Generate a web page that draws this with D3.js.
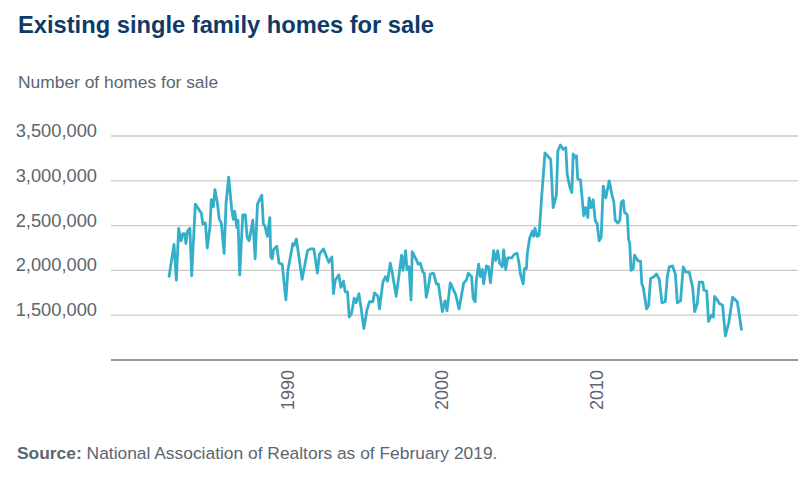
<!DOCTYPE html>
<html>
<head>
<meta charset="utf-8">
<script src="https://cdn.jsdelivr.net/npm/d3@7"></script>
<style>
  body { margin: 0; background: #fff; }
  text { font-family: "Liberation Sans", Arial, sans-serif; }
</style>
</head>
<body>
<div id="chart"></div>
<script>
// fractional year and homes for sale
const years = [
  1982.35, 1982.68, 1982.83, 1982.98, 1983.13, 1983.26, 1983.37, 1983.45, 1983.56, 1983.71,
  1983.82, 1984.06, 1984.32, 1984.45, 1984.54, 1984.71, 1984.83, 1985.01, 1985.09, 1985.22,
  1985.33, 1985.48, 1985.61, 1985.74, 1985.92, 1986.05, 1986.22, 1986.42, 1986.52, 1986.61,
  1986.74, 1986.82, 1986.93, 1987.13, 1987.30, 1987.41, 1987.54, 1987.78, 1987.93, 1988.08,
  1988.36, 1988.46, 1988.57, 1988.72, 1988.88, 1988.94, 1989.04, 1989.12, 1989.33, 1989.48,
  1989.68, 1989.92, 1990.05, 1990.37, 1990.47, 1990.60, 1990.97, 1991.32, 1991.49, 1991.73,
  1991.96, 1992.09, 1992.35, 1992.70, 1992.90, 1993.00, 1993.11, 1993.35, 1993.48, 1993.65,
  1993.76, 1993.91, 1994.02, 1994.17, 1994.34, 1994.47, 1994.65, 1994.78, 1994.97, 1995.17,
  1995.33, 1995.55, 1995.66, 1995.88, 1995.98, 1996.20, 1996.37, 1996.50, 1996.68, 1996.82,
  1997.06, 1997.41, 1997.50, 1997.67, 1997.76, 1997.89, 1998.02, 1998.10, 1998.36, 1998.49,
  1998.62, 1998.79, 1998.88, 1999.01, 1999.14, 1999.27, 1999.48, 1999.66, 1999.79, 2000.05,
  2000.22, 2000.35, 2000.56, 2000.91, 2001.13, 2001.43, 2001.60, 2001.73, 2001.94, 2002.04,
  2002.17, 2002.25, 2002.40, 2002.51, 2002.64, 2002.72, 2002.90, 2003.03, 2003.16, 2003.37,
  2003.50, 2003.63, 2003.76, 2003.93, 2004.02, 2004.15, 2004.28, 2004.54, 2004.71, 2004.89,
  2005.02, 2005.10, 2005.28, 2005.36, 2005.49, 2005.55, 2005.70, 2005.88, 2005.96, 2006.05,
  2006.18, 2006.31, 2006.46, 2006.69, 2007.06, 2007.22, 2007.43, 2007.52, 2007.69, 2007.87,
  2008.04, 2008.13, 2008.30, 2008.43, 2008.52, 2008.65, 2008.73, 2008.81, 2008.99, 2009.20,
  2009.33, 2009.46, 2009.55, 2009.68, 2009.81, 2009.94, 2010.07, 2010.20, 2010.33, 2010.46,
  2010.63, 2010.85, 2011.02, 2011.15, 2011.24, 2011.41, 2011.54, 2011.63, 2011.76, 2011.84,
  2012.02, 2012.10, 2012.18, 2012.26, 2012.40, 2012.49, 2012.70, 2012.88, 2012.96, 2013.05,
  2013.27, 2013.40, 2013.53, 2013.74, 2013.91, 2014.09, 2014.26, 2014.48, 2014.61, 2014.74,
  2014.95, 2015.13, 2015.26, 2015.47, 2015.64, 2015.81, 2016.03, 2016.25, 2016.38, 2016.55,
  2016.68, 2016.90, 2016.98, 2017.16, 2017.28, 2017.46, 2017.59, 2017.67, 2017.85, 2017.98,
  2018.19, 2018.37, 2018.58, 2018.84, 2019.14, 2019.42
];
const homes = [
  1920000, 2290000, 1890000, 2470000, 2330000, 2410000, 2410000, 2300000, 2440000, 2470000,
  1940000, 2740000, 2670000, 2640000, 2520000, 2530000, 2250000, 2490000, 2790000, 2710000,
  2900000, 2760000, 2570000, 2530000, 2190000, 2760000, 3040000, 2670000, 2570000, 2660000,
  2480000, 2560000, 1950000, 2620000, 2620000, 2370000, 2330000, 2560000, 2130000, 2740000,
  2840000, 2520000, 2490000, 2380000, 2590000, 2150000, 2130000, 2230000, 2270000, 2080000,
  2070000, 1670000, 2000000, 2300000, 2280000, 2350000, 1900000, 2220000, 2240000, 2240000,
  1970000, 2180000, 2240000, 2090000, 2150000, 1740000, 1890000, 1950000, 1810000, 1880000,
  1760000, 1760000, 1480000, 1520000, 1690000, 1640000, 1740000, 1590000, 1350000, 1560000,
  1650000, 1650000, 1750000, 1710000, 1570000, 1870000, 1930000, 1880000, 2080000, 1960000,
  1710000, 2170000, 2000000, 2220000, 2010000, 2040000, 1670000, 2210000, 2120000, 2070000,
  2080000, 1980000, 1970000, 1700000, 1810000, 1960000, 1970000, 1850000, 1850000, 1540000,
  1660000, 1550000, 1860000, 1730000, 1570000, 1860000, 1890000, 1970000, 1930000, 1690000,
  1650000, 1890000, 2070000, 1930000, 2010000, 1850000, 2050000, 2040000, 1860000, 2220000,
  2110000, 2220000, 2080000, 2040000, 2230000, 2010000, 2140000, 2140000, 2180000, 2190000,
  2070000, 1960000, 1850000, 2020000, 2020000, 2190000, 2360000, 2440000, 2380000, 2470000,
  2380000, 2390000, 2780000, 3310000, 3240000, 2700000, 2840000, 3330000, 3400000, 3350000,
  3370000, 3070000, 2930000, 2870000, 3300000, 3260000, 3280000, 3020000, 3010000, 2610000,
  2700000, 2590000, 2810000, 2700000, 2790000, 2560000, 2520000, 2330000, 2370000, 2940000,
  2810000, 3000000, 2850000, 2760000, 2560000, 2530000, 2560000, 2760000, 2780000, 2650000,
  2620000, 2350000, 2300000, 2000000, 2020000, 2170000, 2110000, 2100000, 1850000, 1810000,
  1570000, 1610000, 1910000, 1930000, 1960000, 1900000, 1640000, 1650000, 1930000, 2040000,
  2050000, 1960000, 1640000, 1660000, 2040000, 1980000, 1980000, 1810000, 1540000, 1630000,
  1870000, 1870000, 1780000, 1770000, 1430000, 1500000, 1480000, 1710000, 1670000, 1630000,
  1610000, 1270000, 1410000, 1700000, 1650000, 1330000
];
const yTicks = [1500000, 2000000, 2500000, 3000000, 3500000];
const xTicks = [1990, 2000, 2010];

const title = "Existing single family homes for sale";
const subtitle = "Number of homes for sale";

const width = 805, height = 478;
const svg = d3.select("#chart").append("svg")
    .attr("width", width)
    .attr("height", height);

const x = d3.scaleLinear()
    .domain([1978.6, 2023.07])
    .range([111, 798]);

const y = d3.scaleLinear()
    .domain([1000000, 3500000])
    .range([360, 136]);

svg.append("text")
    .attr("x", 18).attr("y", 33)
    .style("font-size", "23.7px")
    .style("font-weight", "bold")
    .attr("fill", "#0e3a68")
    .text(title);

svg.append("text")
    .attr("x", 18).attr("y", 88)
    .style("font-size", "17.4px")
    .attr("fill", "#5b6670")
    .text(subtitle);

// gridlines + y labels
const grid = svg.append("g");
grid.selectAll("line")
    .data(yTicks)
    .join("line")
    .attr("x1", 111).attr("x2", 798)
    .attr("y1", d => y(d)).attr("y2", d => y(d))
    .attr("stroke", "#c9c9c9")
    .attr("stroke-width", 1.3);

grid.selectAll("text")
    .data(yTicks)
    .join("text")
    .attr("x", 97)
    .attr("y", d => y(d) + 1)
    .attr("text-anchor", "end")
    .style("font-size", "18.3px")
    .attr("fill", "#5b6670")
    .text(d3.format(","));

// x axis
const xAxis = d3.axisBottom(x)
    .tickValues(xTicks)
    .tickFormat(d3.format("d"))
    .tickSize(0);

const gx = svg.append("g")
    .attr("transform", `translate(0, ${y(1000000)})`)
    .call(xAxis);

gx.select(".domain")
    .attr("d", "M111,0H798")
    .attr("stroke", "#6d7780")
    .attr("stroke-width", 1.5);

gx.selectAll("text")
    .attr("transform", "rotate(-90)")
    .attr("x", -10)
    .attr("y", 0)
    .attr("dy", "0.35em")
    .style("text-anchor", "end")
    .style("font-size", "18px")
    .style("font-family", "'Liberation Sans', Arial, sans-serif")
    .attr("fill", "#5b6670");

// the series
const line = d3.line()
    .x(d => x(d[0]))
    .y(d => y(d[1]));

svg.append("path")
    .datum(d3.zip(years, homes))
    .attr("d", line)
    .attr("fill", "none")
    .attr("stroke", "#35afc9")
    .attr("stroke-width", 2.8)
    .attr("stroke-linejoin", "round");

const src = svg.append("text")
    .attr("x", 17).attr("y", 459)
    .style("font-size", "17.4px")
    .attr("fill", "#5b6670");
src.append("tspan").style("font-weight", "bold").text("Source:");
src.append("tspan").text(" National Association of Realtors as of February 2019.");
</script>
</body>
</html>
